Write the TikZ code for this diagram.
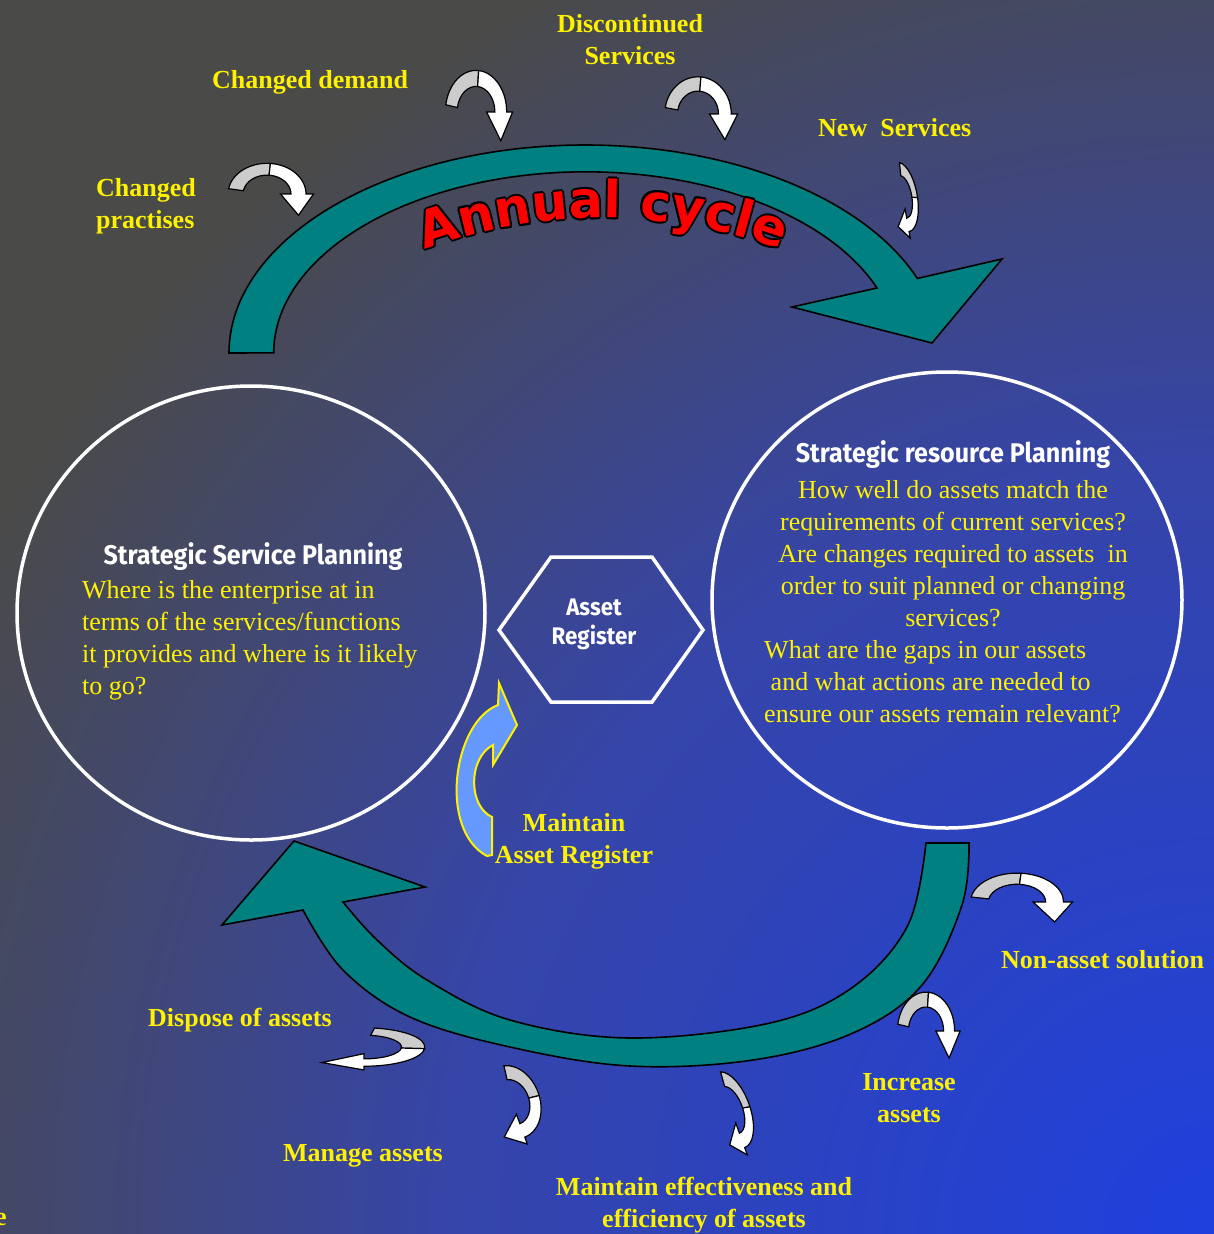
\documentclass[tikz,border=0pt]{standalone}
\usepackage{fontspec}
\setmainfont{Liberation Serif}
\newfontfamily\headfont{Fira Sans}[FakeStretch=0.93]
\newfontfamily\cyclefont{DejaVu Sans}
\usetikzlibrary{shapes.geometric,decorations.text}
\definecolor{cycleteal}{RGB}{0,128,128}
\definecolor{regblue}{RGB}{102,153,255}
\definecolor{twistgray}{RGB}{204,204,204}
\pgfdeclareradialshading{backdrop}{\pgfpoint{0bp}{0bp}}{rgb(0bp)=(0.12,0.25,0.87); rgb(6bp)=(0.21,0.27,0.66); rgb(11bp)=(0.29,0.29,0.285); rgb(50bp)=(0.29,0.29,0.285)}

\begin{document}
\begin{tikzpicture}[
  x=1pt, y=-1pt,
  lbl/.style={text=yellow, font=\fontsize{26}{32}\selectfont\bfseries, align=center, inner sep=0pt},
  body/.style={text=yellow, font=\fontsize{26}{32}\selectfont, inner sep=0pt},
  head/.style={text=white, font=\headfont\bfseries\fontsize{27}{29}\selectfont, align=center, inner sep=0pt},
  ring/.style={draw=white, line width=3.5pt},
  band/.style={fill=cycleteal, draw=black, line width=1.6pt},
  twist/.pic={
    \filldraw[fill=twistgray, draw=black, line width=1.2pt] (170:26pt) arc[start angle=170, end angle=85, radius=26pt]
      -- (85:16pt) arc[start angle=85, end angle=170, radius=16pt] -- cycle;
    \filldraw[fill=white, draw=black, line width=1.2pt] (85:26pt) arc[start angle=85, end angle=0, radius=26pt]
      -- (31pt,0pt) -- (21pt,-18pt) -- (9pt,0pt) -- (16pt,0pt) arc[start angle=0, end angle=85, radius=16pt] -- cycle;
  }
]
  \useasboundingbox (0,0) rectangle (1214,1234);
  % backdrop
  \begin{scope}
    \clip (0,0) rectangle (1214,1234);
    \shade[shading=backdrop] (1214,1234) circle (3200pt);
  \end{scope}

  % the two cycle arrows
  \filldraw[band] (229,353) arc[start angle=180, end angle=21, x radius=356pt, y radius=208pt]
    -- (1002,259) -- (932,343) -- (792,307) -- (877,288)
    arc[start angle=21, end angle=180, x radius=312pt, y radius=181pt] -- cycle;
  \filldraw[band] plot[smooth, tension=0.6] coordinates {(969,843) (962,905) (922,985) (853,1033) (753,1060) (630,1066) (510,1047) (410,1017) (343,970) (303,910)}
    -- (222,925) -- (294,841) -- (425,887)
    -- plot[smooth, tension=0.6] coordinates {(343,902) (377,940) (427,980) (510,1020) (630,1038) (770,1023) (853,987) (908,925) (926,843)} -- cycle;

  % Annual cycle
  \foreach \dx/\dy in {2/0, -2/0, 0/2, 0/-2, 1.4/1.4, 1.4/-1.4, -1.4/1.4, -1.4/-1.4}
    \path[decorate, xshift=\dx pt, yshift=\dy pt, decoration={text along path, text align=center, text color=black,
      text={|\cyclefont\bfseries\fontsize{51}{51}\selectfont|Annual cycle}}]
      (385.8,266.2) arc[start angle=115, end angle=65, radius=514pt];
  \path[decorate, decoration={text along path, text align=center, text color=red,
      text={|\cyclefont\bfseries\fontsize{51}{51}\selectfont|Annual cycle}}]
      (385.8,266.2) arc[start angle=115, end angle=65, radius=514pt];

  % planning circles
  \node[ring, ellipse, minimum width=468pt, minimum height=454pt] (servplan) at (251,613) {};
  \node[ring, ellipse, minimum width=470pt, minimum height=456pt] (resplan) at (947,600) {};
  \node[head] (servhead) at (253,557) {Strategic Service Planning};
  \node[body, anchor=west, align=left] (servtext) at (82,640)
    {Where is the enterprise at in\\terms of the services/functions\\it provides and where is it likely\\to go?};
  \node[head] (reshead) at (953,455) {Strategic resource Planning};
  \node[body, align=center] (restext) at (953,554)
    {How well do assets match the\\requirements of current services?\\Are changes required to assets\ \ in\\order to suit planned or changing\\services?};
  \node[body, anchor=west, align=left] (gaptext) at (764,682)
    {What are the gaps in our assets\\\ and what actions are needed to\\ensure our assets remain relevant?};

  % asset register
  \draw[ring] (499,630) -- (551,557) -- (652,557) -- (703,630) -- (652,702) -- (551,702) -- cycle;
  \node[head, font=\headfont\bfseries\fontsize{24}{29}\selectfont] (register) at (594,624) {Asset\\Register};
  \filldraw[fill=regblue, draw=yellow, line width=2pt] (492,855) -- (492,817) .. controls (468,806) and (468,758) .. (493,745)
    -- (493,765) -- (517,725) -- (499,683) -- (498,705) .. controls (453,722) and (438,830) .. (487,856) -- cycle;
  \node[lbl] (maintreg) at (574,841) {Maintain\\Asset Register};

  % influences on the cycle
  \pic[xscale=1.5, yscale=1.18] at (267,194) {twist};
  \pic[xscale=1.18, yscale=1.6] at (476,112) {twist};
  \pic[xscale=1.28, yscale=1.43] at (698,114) {twist};
  \pic[rotate=-80, xscale=1.35, yscale=0.55] at (903,197) {twist};
  \node[lbl, anchor=west, align=left] (practises) at (96,206) {Changed\\practises};
  \node[lbl, anchor=west] (demand) at (212,82) {Changed demand};
  \node[lbl] (discont) at (630,40) {Discontinued\\Services};
  \node[lbl, anchor=west] (newserv) at (818,128) {New\ \ Services};

  % outcomes
  \pic[xscale=1.79, yscale=1.11] at (1017,902) {twist};
  \pic[xscale=1.1, yscale=1.5] at (926,1031) {twist};
  \pic[rotate=-70, xscale=1.54, yscale=0.73] at (731,1110) {twist};
  \pic[rotate=-70, xscale=1.44, yscale=1.07] at (512,1102) {twist};
  \pic[rotate=-90, xscale=0.74, yscale=2.34] at (364,1047) {twist};
  \node[lbl, anchor=west] (nonasset) at (1001,960) {Non-asset solution};
  \node[lbl] (increase) at (909,1098) {Increase\\assets};
  \node[lbl] (effic) at (704,1205) {Maintain effectiveness and\\efficiency of assets};
  \node[lbl, anchor=west] (manage) at (283,1156) {Manage assets};
  \node[lbl, anchor=west] (dispose) at (148,1020) {Dispose of assets};
  \node[lbl] (cutoff) at (1,1219) {e};
\end{tikzpicture}
\end{document}
